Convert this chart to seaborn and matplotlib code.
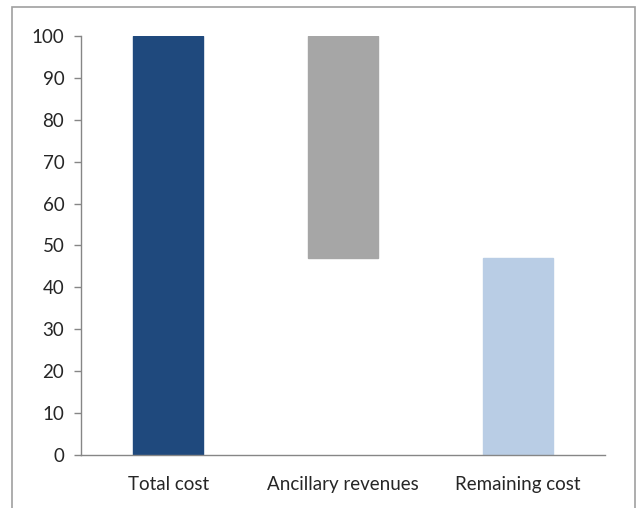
import matplotlib
matplotlib.use("Agg")
import matplotlib.pyplot as plt
import matplotlib.patches as patches
import seaborn as sns

categories = ["Total cost", "Ancillary revenues", "Remaining cost"]
heights = [100, 53, 47]
bottoms = [0, 47, 0]
colors = ["#1F497D", "#A6A6A6", "#B9CDE5"]

sns.set_style("white")
plt.rcParams['font.family'] = ['Lato', 'DejaVu Sans']

W, H = 638, 508
fig = plt.figure(figsize=(W / 100, H / 100), dpi=100)

# cadre gris autour du graphique
fig.patches.append(patches.Rectangle((12 / W, -0.05), (635 - 12) / W, 1.05 - 7 / H,
                                     transform=fig.transFigure, fill=False,
                                     edgecolor="#A0A0A0", linewidth=1.2))

ax = fig.add_axes([81 / W, (H - 455) / H, (605 - 81) / W, (455 - 36) / H])

sns.barplot(x=categories, y=heights, bottom=bottoms, color=colors[0],
            width=0.4, errorbar=None, ax=ax, saturation=1)
for p, c in zip(ax.patches, colors):
    p.set_facecolor(c)
    p.set_edgecolor(c)

ax.set_ylim(0, 100)
ax.set_xlim(-0.5, 2.5)
ax.set_yticks(range(0, 101, 10))
ax.set_xticks([-0.5, 0.5, 1.5, 2.5])
ax.set_xticklabels([])
ax.set_xticks([0, 1, 2], minor=True)
ax.set_xticklabels(categories, minor=True)
ax.tick_params(axis="x", which="minor", length=0, pad=15, labelsize=13.5)
ax.tick_params(axis="x", which="major", length=5, color="#868686", width=1)
ax.tick_params(axis="y", length=5, color="#868686", width=1, labelsize=13.5, pad=7, left=True)
ax.set_xlabel("")
ax.set_ylabel("")

sns.despine(ax=ax)
for s in ["left", "bottom"]:
    ax.spines[s].set_color("#868686")
    ax.spines[s].set_linewidth(1)

fig.savefig("out.png", dpi=100)
